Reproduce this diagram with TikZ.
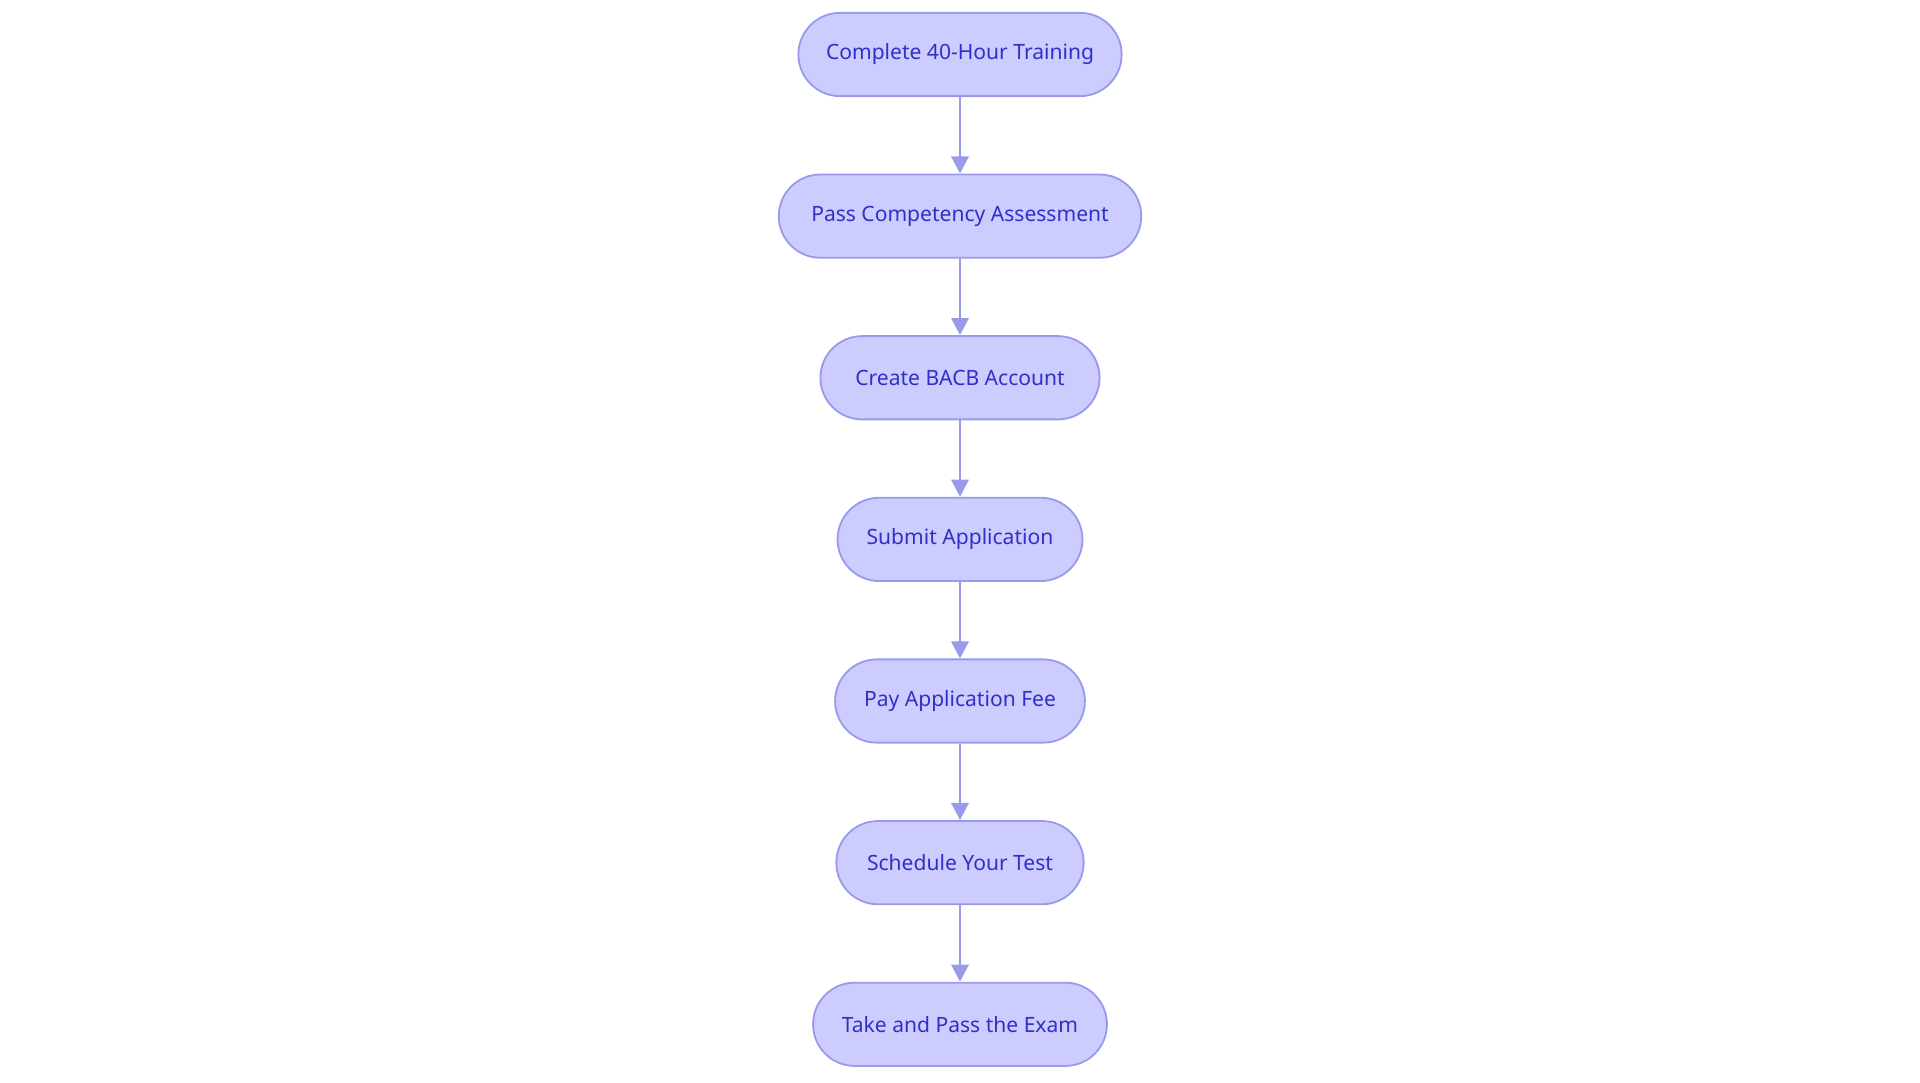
\documentclass[tikz,border=0pt]{standalone}
\usepackage{fontspec}
\setmainfont{Noto Sans}
\usetikzlibrary{positioning,arrows.meta}
\definecolor{stepfill}{HTML}{CCCCFF}
\definecolor{stepline}{HTML}{9A9AEA}
\definecolor{steptext}{HTML}{3030C8}
\tikzset{every picture/.style={line width=0.75pt}}
\tikzset{
  stage/.style={draw=stepline, fill=stepfill, text=steptext, rounded corners=17pt,
    minimum height=34pt, inner sep=0pt, font=\fontsize{8.6}{10}\selectfont},
  link/.style={draw=stepline, line width=1.2pt, -{Triangle[length=7pt,width=7pt]}}
}
\begin{document}
\begin{tikzpicture}[x=0.5pt,y=0.5pt,yscale=-1,xscale=1]
\useasboundingbox (0,0) rectangle (1568,884);

% steps
\node [stage, minimum width=132pt] (train) at (784,44.5) {Complete 40-Hour Training};
\node [stage, minimum width=148pt] (assess) at (784,176.5) {Pass Competency Assessment};
\node [stage, minimum width=114pt] (account) at (784,308.5) {Create BACB Account};
\node [stage, minimum width=100pt] (apply) at (784,440.5) {Submit Application};
\node [stage, minimum width=102pt] (fee) at (784,572.5) {Pay Application Fee};
\node [stage, minimum width=101pt] (sched) at (784,704.5) {Schedule Your Test};
\node [stage, minimum width=120pt] (exam) at (784,836.5) {Take and Pass the Exam};

% links
\foreach \a/\b in {train/assess,assess/account,account/apply,apply/fee,fee/sched,sched/exam}
  \draw [link] (\a) -- (\b);

\end{tikzpicture}
\end{document}
